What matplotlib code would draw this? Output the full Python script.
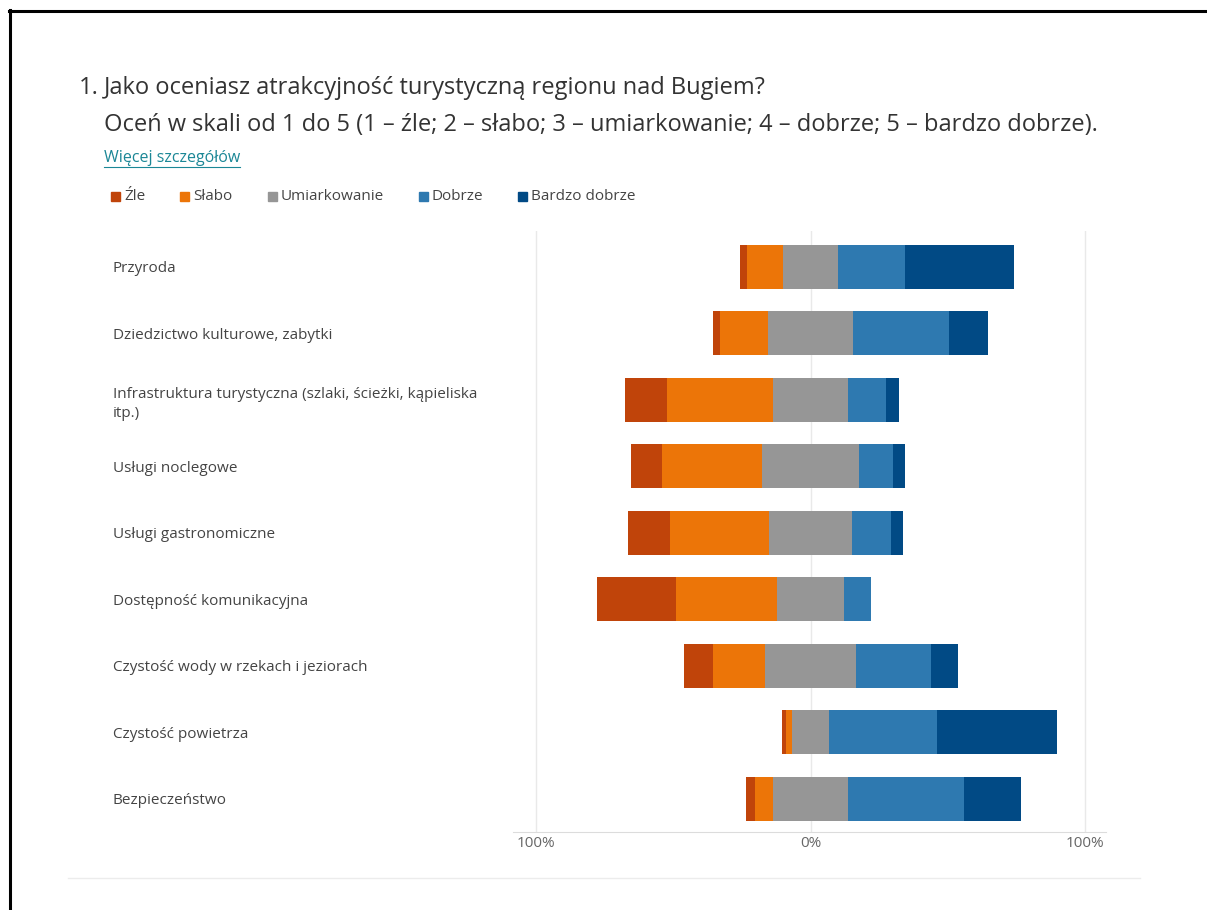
import matplotlib
matplotlib.use('Agg')
import matplotlib.pyplot as plt
from matplotlib.lines import Line2D
from matplotlib.patches import Rectangle
import numpy as np

plt.rcParams['font.family'] = ['Open Sans', 'DejaVu Sans']

# Data (percent of answers)
categories = [
    'Przyroda',
    'Dziedzictwo kulturowe, zabytki',
    'Infrastruktura turystyczna (szlaki, ścieżki, kąpieliska\nitp.)',
    'Usługi noclegowe',
    'Usługi gastronomiczne',
    'Dostępność komunikacyjna',
    'Czystość wody w rzekach i jeziorach',
    'Czystość powietrza',
    'Bezpieczeństwo',
]
zle = [2.8, 2.5, 15.2, 11.5, 15.1, 28.8, 10.5, 1.4, 3.0]
slabo = [13.2, 17.6, 38.9, 36.5, 36.3, 36.8, 19.1, 2.0, 6.6]
umiarkowanie = [19.7, 30.8, 27.0, 35.0, 30.1, 24.4, 33.2, 13.7, 27.5]
dobrze = [24.7, 35.0, 14.0, 12.7, 14.2, 10.0, 27.2, 39.2, 42.3]
bardzo_dobrze = [39.6, 14.1, 4.9, 4.3, 4.3, 0.0, 10.0, 43.7, 20.6]

series_names = ['Źle', 'Słabo', 'Umiarkowanie', 'Dobrze', 'Bardzo dobrze']
colors = ['#C0440A', '#EC7508', '#969696', '#2E79B0', '#014A85']
tick_values = [-100, 0, 100]
tick_labels = ['100%', '0%', '100%']

W, H = 1207, 910
fig = plt.figure(figsize=(W / 100, H / 100), dpi=100)


def fx(px):
    return px / W


def fy(py):
    return 1 - py / H


ax = fig.add_axes([fx(512.7), fy(832), (1105.6 - 512.7) / W, (832 - 231) / H])

# diverging stacked bars, neutral answer centred on 0
values = np.array([zle, slabo, umiarkowanie, dobrze, bardzo_dobrze])
y = np.arange(len(categories))
left = -(values[0] + values[1] + values[2] / 2)
for name, vals, c in zip(series_names, values, colors):
    ax.barh(y, vals, left=left, height=0.665, color=c, label=name, zorder=2)
    left = left + vals

ax.set_xlim(-108.5, 107.5)
ax.set_ylim(8.5, -0.54)
for xv in tick_values:
    ax.axvline(xv, color='#e9e9e9', lw=1, zorder=0)

for s in ['top', 'left', 'right']:
    ax.spines[s].set_visible(False)
ax.spines['bottom'].set_color('#dcdcdc')

ax.set_xticks(tick_values)
ax.set_xticklabels(tick_labels)
ax.tick_params(axis='x', length=0, pad=3, labelcolor='#666666', labelsize=11)

ax.set_yticks(y)
ax.set_yticklabels(categories, ha='left', fontsize=11, color='#444444',
                   linespacing=1.35)
ax.tick_params(axis='y', length=0, pad=(512.7 - 113) * 0.72)

# header texts
fig.text(fx(79), fy(88), '1.', fontsize=17, va='center', color='#333333')
fig.text(fx(104), fy(88), 'Jako oceniasz atrakcyjność turystyczną regionu nad Bugiem?',
         fontsize=17, va='center', color='#333333')
fig.text(fx(104), fy(125),
         'Oceń w skali od 1 do 5 (1 – źle; 2 – słabo; 3 – umiarkowanie; '
         '4 – dobrze; 5 – bardzo dobrze).',
         fontsize=17, va='center', color='#333333')
link = fig.text(fx(104), fy(158), 'Więcej szczegółów', fontsize=11.5,
                va='center', color='#1b8796')

renderer = fig.canvas.get_renderer()
bb = link.get_window_extent(renderer)
fig.add_artist(Line2D([bb.x0 / W, bb.x1 / W], [fy(167), fy(167)],
                      color='#1b8796', lw=0.8, transform=fig.transFigure))

# legend row
x = 111
for name, c in zip(series_names, colors):
    fig.add_artist(Rectangle((fx(x), fy(201)), 9 / W, 9 / H, color=c,
                             transform=fig.transFigure))
    t = fig.text(fx(x + 13), fy(196), name, fontsize=11, va='center',
                 color='#444444')
    tb = t.get_window_extent(renderer)
    x = tb.x1 + 35

# frame lines and separator
fig.add_artist(Line2D([fx(9), 1], [fy(11), fy(11)], color='black', lw=2.2,
                      transform=fig.transFigure))
fig.add_artist(Line2D([fx(10), fx(10)], [fy(10), 0], color='black', lw=2.2,
                      transform=fig.transFigure))
fig.add_artist(Line2D([fx(68), fx(1140)], [fy(878), fy(878)], color='#ececec',
                      lw=1, transform=fig.transFigure))

fig.savefig('out.png', dpi=100)
